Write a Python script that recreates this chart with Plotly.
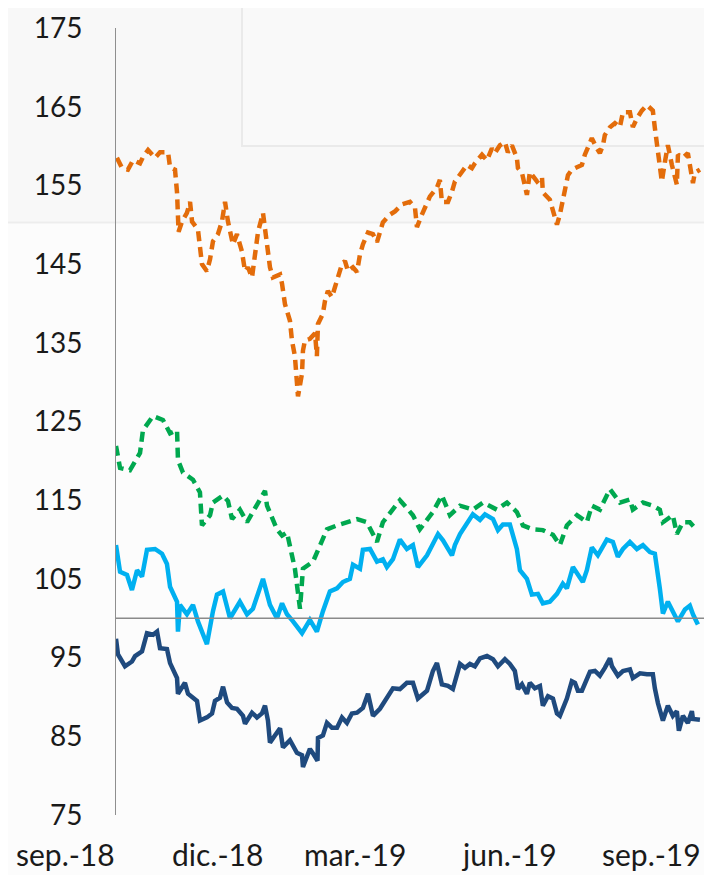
import plotly.graph_objects as go

# ---- data (x = days since start of series, early Sep 2018) ----
orange_days = [0.6, 3.9, 7.7, 11.0, 15.5, 17.4, 20.7, 25.2, 28.4, 33.6, 34.9, 38.1, 39.4, 40.0, 40.4,
               42.6, 45.8, 47.8, 49.1, 52.9, 54.2, 55.5, 58.7, 60.7, 62.6, 65.8, 68.4, 70.4, 72.3, 75.5,
               78.1, 81.3, 83.3, 85.2, 87.8, 89.7, 91.7, 94.9, 97.5, 99.4, 101.3, 105.9, 107.2, 109.1,
               112.3, 113.6, 115.5, 116.8, 117.5, 120.1, 120.7, 122.0, 125.2, 128.5, 129.7, 130.4, 133.6,
               134.9, 136.8, 139.4, 141.4, 143.3, 145.9, 147.8, 149.8, 153.0, 155.6, 157.5, 159.4, 162.7,
               165.9, 168.5, 170.4, 172.3, 176.9, 180.1, 184.6, 188.5, 189.8, 193.0, 194.3, 197.5, 199.5,
               202.7, 207.2, 209.1, 210.4, 214.3, 216.9, 218.8, 223.3, 226.6, 229.8, 231.7, 236.3, 239.5,
               242.7, 244.6, 247.9, 251.1, 253.0, 255.6, 258.8, 259.5, 262.1, 264.0, 265.3, 267.2, 269.2,
               271.8, 275.0, 275.6, 280.1, 282.1, 284.7, 286.6, 288.5, 289.8, 291.8, 294.3, 298.2, 300.8,
               302.7, 304.7, 307.2, 310.5, 312.4, 314.4, 315.6, 318.9, 322.1, 325.3, 327.3, 331.8, 333.7,
               336.3, 339.5, 342.8, 346.6, 347.9, 349.2, 351.1, 352.4, 354.4, 356.3, 358.9, 362.1, 362.8,
               366.0, 369.2, 372.5, 373.7, 377.0]
orange_vals = [158.5, 157.2, 157.0, 158.2, 157.8, 158.6, 159.5, 158.5, 159.2, 159.2, 157.3, 157.0, 154.1,
               151.7, 149.1, 150.4, 151.5, 152.9, 150.4, 149.4, 147.1, 145.0, 144.1, 145.6, 147.9, 148.8,
               150.4, 152.9, 150.4, 147.5, 148.8, 146.6, 144.1, 144.6, 143.3, 146.2, 149.1, 151.5, 147.5,
               144.6, 143.3, 143.7, 142.5, 139.9, 137.8, 135.3, 133.3, 130.7, 128.2, 131.1, 134.0, 135.3,
               135.5, 136.2, 133.3, 137.4, 138.7, 140.3, 141.6, 140.8, 142.1, 143.7, 145.0, 145.4, 144.1,
               144.6, 144.0, 146.2, 147.5, 149.0, 148.8, 147.8, 149.1, 150.3, 151.3, 151.7, 152.6, 152.8,
               152.9, 152.2, 149.7, 151.3, 152.2, 153.6, 154.7, 155.7, 152.9, 152.9, 154.2, 155.5, 156.7,
               157.6, 157.2, 157.8, 158.9, 158.2, 159.7, 159.1, 160.1, 160.5, 159.2, 160.1, 158.5, 157.2,
               156.6, 155.1, 153.8, 156.7, 156.1, 155.5, 156.1, 154.1, 153.2, 151.7, 150.0, 151.3, 153.4,
               154.7, 156.3, 157.0, 157.3, 157.6, 158.9, 159.7, 161.0, 159.7, 159.1, 160.1, 161.4, 162.4,
               162.9, 162.4, 164.3, 164.3, 162.4, 163.5, 164.5, 165.2, 164.5, 162.3, 160.1, 158.0, 155.5,
               158.0, 160.1, 157.6, 155.1, 158.9, 158.5, 159.1, 155.3, 156.6, 157.0]

green_days = [0.0, 2.6, 9.0, 15.5, 17.4, 23.9, 30.3, 34.9, 39.4, 40.0, 43.2, 49.7, 54.2, 55.5, 60.7,
              62.6, 69.1, 72.3, 74.9, 80.0, 84.6, 91.0, 96.2, 97.5, 103.9, 107.2, 110.4, 113.6, 115.5,
              118.8, 120.7, 127.2, 131.7, 136.2, 142.7, 149.1, 155.6, 162.0, 168.5, 172.3, 178.8, 183.3,
              191.7, 196.2, 204.6, 210.4, 215.6, 222.1, 230.4, 236.9, 245.9, 252.4, 258.8, 262.7, 269.2,
              275.6, 282.1, 286.6, 291.1, 297.6, 304.0, 307.2, 312.4, 318.9, 325.3, 331.8, 333.7, 340.2,
              346.6, 351.1, 353.1, 359.5, 362.1, 366.0, 370.5, 375.0]
green_vals = [121.9, 119.1, 118.8, 121.0, 123.9, 125.7, 125.2, 123.5, 123.9, 120.1, 118.5, 117.6, 116.0,
              111.8, 113.1, 114.7, 115.6, 114.9, 112.6, 113.8, 112.2, 114.3, 116.2, 114.3, 111.3, 110.5,
              110.9, 108.0, 106.3, 101.2, 106.3, 107.2, 109.3, 111.3, 111.8, 112.2, 112.6, 112.2, 109.7,
              112.2, 113.8, 115.0, 113.1, 111.3, 113.5, 115.6, 113.1, 114.3, 113.8, 114.7, 113.8, 114.7,
              113.5, 111.8, 111.3, 111.2, 110.6, 109.3, 111.8, 113.1, 112.2, 114.3, 113.8, 116.4, 114.7,
              115.1, 113.8, 114.7, 114.3, 113.8, 112.2, 113.1, 110.7, 112.2, 112.2, 111.2]

lightblue_days = [0.0, 2.6, 7.1, 10.3, 13.6, 16.8, 20.0, 25.2, 29.7, 32.9, 34.9, 39.4, 40.0, 41.3, 45.8,
                  49.7, 52.9, 58.7, 62.6, 65.2, 69.1, 73.6, 80.0, 84.6, 88.4, 94.9, 99.4, 103.9, 107.2,
                  110.4, 114.3, 120.1, 125.2, 129.7, 133.6, 138.1, 142.7, 146.5, 151.0, 153.0, 157.5,
                  159.4, 164.0, 168.5, 172.3, 174.9, 178.8, 183.3, 187.8, 191.7, 194.9, 200.8, 207.9,
                  211.1, 216.9, 218.8, 222.1, 226.6, 230.4, 235.0, 238.2, 243.4, 246.6, 249.8, 254.3,
                  258.8, 260.8, 265.3, 268.5, 272.4, 275.6, 280.1, 284.7, 288.5, 291.1, 295.0, 298.2,
                  301.4, 304.0, 307.2, 311.1, 316.9, 320.8, 324.0, 327.3, 331.8, 336.3, 340.2, 344.7,
                  347.9, 351.1, 353.1, 356.3, 359.5, 362.8, 367.3, 370.5, 372.5, 375.7]
lightblue_vals = [109.3, 105.9, 105.5, 103.6, 106.1, 105.3, 108.7, 108.8, 108.2, 106.9, 104.0, 102.1, 98.3,
                  101.7, 100.5, 101.7, 99.6, 96.7, 100.9, 103.0, 103.4, 100.0, 102.1, 100.5, 101.2, 105.0,
                  101.7, 100.0, 101.9, 100.5, 99.6, 98.1, 99.8, 98.3, 100.9, 103.4, 103.8, 104.6, 105.0,
                  106.8, 106.3, 108.7, 108.8, 107.2, 107.5, 106.5, 107.5, 110.0, 108.8, 109.3, 106.5,
                  108.0, 110.7, 109.9, 108.0, 109.3, 110.7, 112.2, 113.2, 112.5, 113.2, 112.6, 111.2,
                  111.9, 111.9, 108.8, 106.1, 105.0, 103.0, 103.1, 101.9, 102.1, 103.1, 104.4, 103.8,
                  106.5, 105.6, 104.6, 106.1, 109.0, 108.0, 110.0, 109.7, 107.8, 108.8, 109.7, 108.8,
                  109.3, 108.4, 108.2, 103.8, 100.6, 102.1, 100.9, 99.6, 101.1, 101.6, 100.5, 99.2]

darkblue_days = [0.0, 1.3, 5.8, 10.3, 12.3, 16.8, 20.0, 23.9, 26.5, 28.4, 32.9, 34.9, 39.4, 40.0, 44.5,
                 46.5, 52.3, 54.2, 58.7, 62.0, 63.9, 67.1, 69.1, 71.7, 74.9, 78.1, 82.0, 83.3, 87.8, 91.0,
                 94.2, 96.2, 98.1, 99.4, 102.6, 105.9, 107.8, 112.3, 116.8, 120.1, 120.7, 125.2, 127.2,
                 130.1, 130.4, 133.6, 136.2, 139.4, 142.7, 145.9, 149.1, 152.3, 155.6, 159.4, 162.7,
                 165.9, 170.4, 172.3, 174.9, 178.8, 183.3, 187.8, 191.7, 194.9, 200.8, 204.6, 207.2,
                 210.4, 214.3, 217.5, 222.1, 225.3, 228.5, 231.7, 235.0, 239.5, 243.4, 246.6, 251.1,
                 254.3, 257.5, 259.5, 262.1, 265.3, 267.2, 270.4, 273.7, 275.6, 278.9, 282.1, 284.7,
                 286.6, 291.1, 294.3, 296.3, 298.2, 300.8, 306.0, 309.2, 312.4, 315.6, 318.9, 320.2,
                 324.0, 327.3, 331.8, 333.7, 338.3, 342.8, 346.6, 347.9, 349.9, 353.1, 356.3, 359.5,
                 362.1, 363.4, 366.0, 369.2, 371.8, 372.5, 377.0]
darkblue_vals = [97.4, 95.4, 93.9, 94.5, 95.2, 95.8, 98.1, 97.9, 98.3, 96.2, 96.1, 94.3, 92.4, 90.4, 91.8,
                 90.4, 89.5, 87.0, 87.4, 87.9, 89.5, 89.9, 91.3, 89.3, 88.6, 88.5, 87.6, 86.6, 88.0, 87.4,
                 87.9, 88.9, 87.0, 84.2, 85.1, 86.0, 83.6, 84.5, 82.9, 82.6, 81.1, 83.4, 82.8, 81.9, 84.8,
                 85.1, 86.7, 86.1, 86.1, 87.4, 86.7, 87.9, 88.0, 88.6, 90.4, 87.6, 88.5, 89.1, 89.9, 91.1,
                 91.0, 91.8, 91.8, 89.8, 90.8, 93.3, 94.3, 91.6, 91.4, 91.0, 94.2, 93.7, 94.2, 93.9, 94.9,
                 95.2, 94.8, 93.9, 94.8, 94.2, 93.3, 91.0, 91.6, 90.4, 91.8, 91.1, 91.4, 88.9, 90.1, 89.8,
                 87.9, 87.6, 89.8, 92.0, 91.8, 90.8, 90.8, 93.2, 93.3, 92.7, 93.7, 94.9, 93.9, 92.7, 93.3,
                 93.5, 92.4, 93.0, 92.9, 92.9, 91.1, 89.2, 87.0, 88.9, 87.6, 88.2, 85.7, 87.6, 86.7, 88.2,
                 87.2, 87.1]

x_tick_labels = ["sep.-18", "dic.-18", "mar.-19", "jun.-19", "sep.-19"]
y_ticks = [75, 85, 95, 105, 115, 125, 135, 145, 155, 165, 175]

# ---- layout constants (page body has an 8px margin, so the figure is offset by 8px) ----
OFF = 8
W, H = 712 - OFF, 875 - OFF
PLOT_L, PLOT_R, PLOT_T, PLOT_B = 116 - OFF, 710 - OFF, 22 - OFF, 815 - OFF
ML, MR, MT, MB = PLOT_L, W - PLOT_R, PLOT_T, H - PLOT_B
PW, PH = PLOT_R - PLOT_L, PLOT_B - PLOT_T
FONT = "Lato, 'DejaVu Sans', sans-serif"
label_px = [65, 217, 355, 509, 651]
label_py = 854


def px_to_paper_x(px):
    return (px - OFF - PLOT_L) / PW


def py_to_paper_y(py):
    return (PLOT_B - (py - OFF)) / PH


DASH = "10px,6px"
fig = go.Figure()
fig.add_trace(go.Scatter(x=darkblue_days, y=darkblue_vals, mode="lines",
                         line=dict(color="#1F4A7E", width=4.5)))
fig.add_trace(go.Scatter(x=lightblue_days, y=lightblue_vals, mode="lines",
                         line=dict(color="#00B0F0", width=4.5)))
fig.add_trace(go.Scatter(x=green_days, y=green_vals, mode="lines",
                         line=dict(color="#00A84F", width=4.5, dash=DASH)))
fig.add_trace(go.Scatter(x=orange_days, y=orange_vals, mode="lines",
                         line=dict(color="#E36C0A", width=4.5, dash=DASH)))

shapes = [
    # faint background band at top
    dict(type="rect", xref="paper", yref="paper", layer="below",
         x0=px_to_paper_x(-20), x1=px_to_paper_x(740), y0=py_to_paper_y(218), y1=py_to_paper_y(-20),
         fillcolor="#f8f8f8", line=dict(color="#ededed", width=2)),
    # faint box outline
    dict(type="rect", xref="paper", yref="paper", layer="below",
         x0=px_to_paper_x(242), x1=px_to_paper_x(740), y0=py_to_paper_y(141), y1=py_to_paper_y(-20),
         fillcolor="#f9f9f9", line=dict(color="#eaeaea", width=2)),
    # 100 reference line (category axis)
    dict(type="line", xref="paper", yref="y", x0=0, x1=1, y0=100, y1=100,
         line=dict(color="#8a8a8a", width=1.3)),
]

annotations = [
    dict(text=t, xref="paper", yref="paper", x=px_to_paper_x(p), y=py_to_paper_y(label_py),
         xanchor="center", yanchor="middle", showarrow=False,
         font=dict(family=FONT, size=30, color="#1a1a1a"))
    for t, p in zip(x_tick_labels, label_px)
]

fig.update_layout(
    width=W, height=H,
    margin=dict(l=ML, r=MR, t=MT, b=MB),
    paper_bgcolor="#fcfcfc", plot_bgcolor="rgba(0,0,0,0)",
    showlegend=False,
    shapes=shapes, annotations=annotations,
    xaxis=dict(range=[0, 383.5], showgrid=False, zeroline=False, showline=False,
               showticklabels=False, ticks=""),
    yaxis=dict(range=[75, 175], tickvals=y_ticks, showgrid=False, zeroline=False,
               showline=True, linecolor="#8f8f8f", linewidth=1, ticks="",
               ticklabelstandoff=27, ticklabeloverflow="allow",
               tickfont=dict(family=FONT, size=28, color="#1a1a1a")),
)

fig.write_html("out.html")
